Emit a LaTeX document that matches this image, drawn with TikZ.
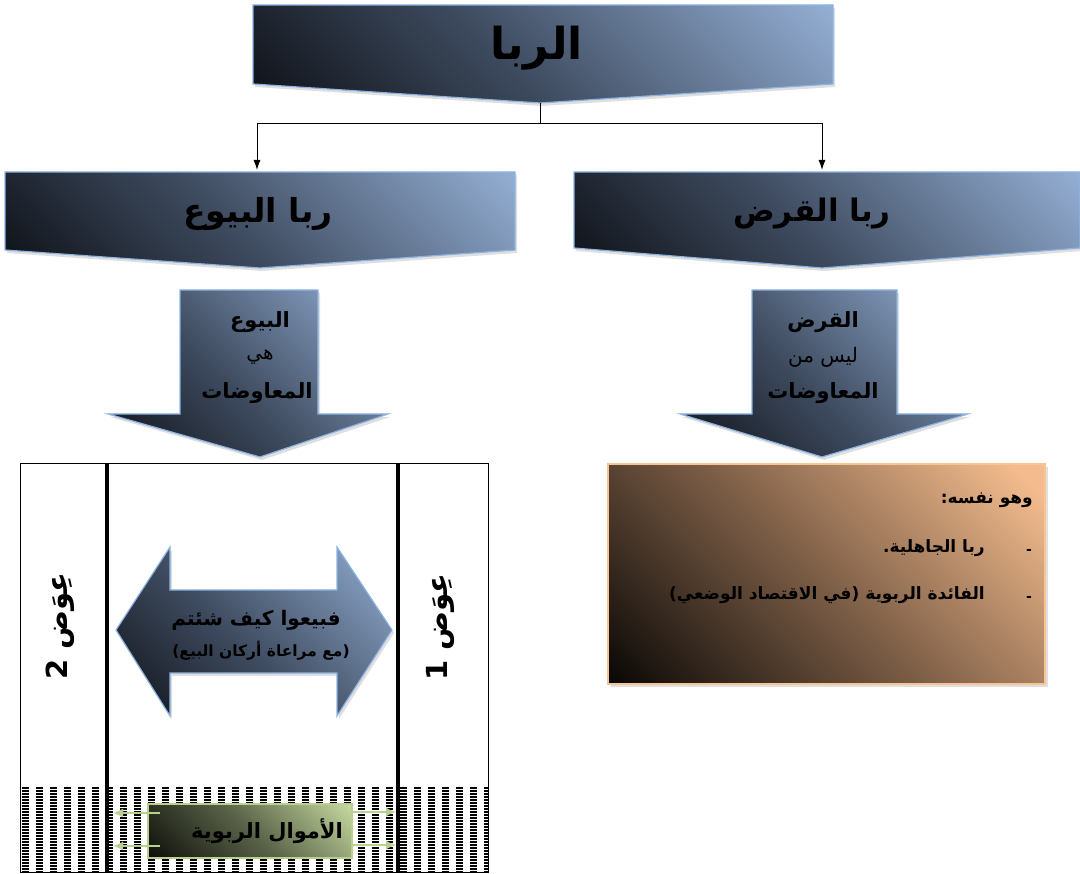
\documentclass[tikz,border=0pt]{standalone}
\usepackage{fontspec}
\usepackage{tikz}
\usetikzlibrary{calc,positioning,shadows,arrows.meta}
\TeXXeTstate=1
\newfontfamily\arabicfont[Script=Arabic]{DejaVu Sans}
\definecolor{steeldark}{HTML}{0A0C11}
\definecolor{steelmid}{HTML}{3D4A5E}
\definecolor{steellight}{HTML}{93AED3}
\definecolor{steeledge}{HTML}{8DB3E2}
\definecolor{browndark}{HTML}{000000}
\definecolor{brownmid}{HTML}{7A5C45}
\definecolor{brownlight}{HTML}{F4BC8E}
\definecolor{brownedge}{HTML}{F6C495}
\definecolor{greendark}{HTML}{080805}
\definecolor{greenmid}{HTML}{596348}
\definecolor{greenlight}{HTML}{C6D9A0}
\definecolor{greenedge}{HTML}{B9D08E}
\pgfdeclareverticalshading{steelshade}{100bp}{color(0bp)=(steellight); color(15bp)=(steellight); color(55bp)=(steelmid); color(88bp)=(steeldark); color(100bp)=(steeldark)}
\pgfdeclareverticalshading{brownshade}{100bp}{color(0bp)=(brownlight); color(18bp)=(brownlight); color(52bp)=(brownmid); color(88bp)=(browndark); color(100bp)=(browndark)}
\pgfdeclareverticalshading{greenshade}{100bp}{color(0bp)=(greenlight); color(15bp)=(greenlight); color(50bp)=(greenmid); color(88bp)=(greendark); color(100bp)=(greendark)}
\tikzset{
  chev/.style={draw=steeledge, line width=1.2pt, shading=steelshade, shading angle=135,
    drop shadow={opacity=0.25, shadow xshift=2pt, shadow yshift=-3pt}},
  brownbox/.style={draw=brownedge, line width=1.5pt, shading=brownshade, shading angle=135,
    drop shadow={opacity=0.25, shadow xshift=3pt, shadow yshift=-3pt}},
  greenbox/.style={draw=greenedge, line width=1.5pt, shading=greenshade, shading angle=135},
  ar/.style={font=\arabicfont, text=black, inner sep=0pt},
  greenarrow/.style={draw=greenedge, line width=1.6pt, -{Latex[length=10pt,width=9pt]}},
  linkarrow/.style={line width=1pt, -{Latex[length=10pt,width=7pt]}},
}
\begin{document}
\begin{tikzpicture}[x=1pt, y=-1pt]
  \useasboundingbox (0,0) rectangle (1080,874);

  % top chevron
  \path[chev] (253,5) -- (833,5) -- (833,84) -- (540,103) -- (253,84) -- cycle;
  \node[ar, font=\arabicfont\bfseries\fontsize{44}{50}\selectfont] (riba) at (537,48) {\beginR الربا\endR};
  \coordinate (ribaTip) at (540,103);

  % second level chevrons
  \path[chev] (5,172) -- (515,172) -- (515,250) -- (260,268) -- (5,250) -- cycle;
  \node[ar, font=\arabicfont\bfseries\fontsize{33}{38}\selectfont] (buyu) at (258,214) {\beginR ربا البيوع\endR};
  \coordinate (buyuTop) at (257,170);

  \path[chev] (574,172) -- (1080,172) -- (1080,248) -- (822,268) -- (574,248) -- cycle;
  \node[ar, font=\arabicfont\bfseries\fontsize{31}{36}\selectfont] (qard) at (812,214) {\beginR ربا القرض\endR};
  \coordinate (qardTop) at (822,170);

  % connectors
  \coordinate (split) at ($(ribaTip)+(0,21)$);
  \draw[line width=1pt] (ribaTip) -- (split);
  \draw[linkarrow] (split) -| (buyuTop);
  \draw[linkarrow] (split) -| (qardTop);

  % down arrows
  \path[chev] (180,290) -- (318,290) -- (318,414) -- (388,414) -- (260,457) -- (108,414) -- (180,414) -- cycle;
  \node[ar, font=\arabicfont\bfseries\fontsize{21}{24}\selectfont] (buyuA) at (260,322) {\beginR البيوع\endR};
  \node[ar, font=\arabicfont\fontsize{20}{24}\selectfont] (buyuB) at (260,357) {\beginR هي\endR};
  \node[ar, font=\arabicfont\bfseries\fontsize{21}{24}\selectfont] (buyuC) at (257,393) {\beginR المعاوضات\endR};

  \path[chev] (752,290) -- (897,290) -- (897,414) -- (968,414) -- (822,457) -- (680,414) -- (752,414) -- cycle;
  \node[ar, font=\arabicfont\bfseries\fontsize{21}{24}\selectfont] (qardA) at (823,322) {\beginR القرض\endR};
  \node[ar, font=\arabicfont\fontsize{20}{24}\selectfont] (qardB) at (823,357) {\beginR ليس من\endR};
  \node[ar, font=\arabicfont\bfseries\fontsize{21}{24}\selectfont] (qardC) at (823,393) {\beginR المعاوضات\endR};

  % brown box
  \path[brownbox] (608,464) rectangle (1045,684);
  \node[ar, anchor=east, font=\arabicfont\bfseries\fontsize{17}{20}\selectfont] (nafsuh) at (1033,500) {\beginR وهو نفسه:\endR};
  \node[ar, anchor=east, font=\arabicfont\bfseries\fontsize{17}{20}\selectfont] (jahil) at (985,548) {\beginR ربا الجاهلية.\endR};
  \node[ar, anchor=east, font=\arabicfont\bfseries\fontsize{17}{20}\selectfont] (faida) at (985,595) {\beginR الفائدة الربوية (في الاقتصاد الوضعي)\endR};
  \node[ar, font=\arabicfont\bfseries\fontsize{14}{16}\selectfont] (dashA) at (1029,552) {-};
  \node[ar, font=\arabicfont\bfseries\fontsize{14}{16}\selectfont] (dashB) at (1029,599) {-};

  % exchange table
  \begin{scope}
    \clip (20,787) rectangle (488,872);
    \foreach \yy in {788,791,...,872}
      \draw[line width=1.4pt, dash pattern=on 7pt off 7pt] (22,\yy) -- (488,\yy);
  \end{scope}
  \draw[line width=0.8pt] (20,463) rectangle (488,872);
  \draw[line width=3.5pt] (107,463) -- (107,872);
  \draw[line width=3.5pt] (398,463) -- (398,872);
  \node[ar, rotate=90, font=\arabicfont\bfseries\fontsize{29}{32}\selectfont] (iwadB) at (60,626) {\beginR عِوَض 2\endR};
  \node[ar, rotate=90, font=\arabicfont\bfseries\fontsize{29}{32}\selectfont] (iwadA) at (440,627) {\beginR عِوَض 1\endR};

  % double arrow
  \path[chev] (116,630) -- (170,547) -- (170,590) -- (337,590) -- (337,547) -- (392,630)
    -- (337,716) -- (337,673) -- (170,673) -- (170,716) -- cycle;
  \node[ar, font=\arabicfont\bfseries\fontsize{20}{24}\selectfont] (bayu) at (256,620) {\beginR فبيعوا كيف شئتم\endR};
  \node[ar, font=\arabicfont\bfseries\fontsize{15.5}{18}\selectfont] (arkan) at (261,651) {\beginR (مع مراعاة أركان البيع)\endR};

  % green box
  \path[greenbox] (148,804) rectangle (352,858);
  \node[ar, anchor=east, font=\arabicfont\bfseries\fontsize{21}{24}\selectfont] (amwal) at (343,831) {\beginR الأموال الربوية\endR};
  \coordinate (gL1) at (160,813); \coordinate (gL2) at (160,846);
  \coordinate (gR1) at (352,812); \coordinate (gR2) at (352,845);
  \draw[greenarrow] (gL1) -- ++(-47,0);
  \draw[greenarrow] (gL2) -- ++(-47,0);
  \draw[greenarrow] (gR1) -- ++(44,0);
  \draw[greenarrow] (gR2) -- ++(44,0);
\end{tikzpicture}
\end{document}
